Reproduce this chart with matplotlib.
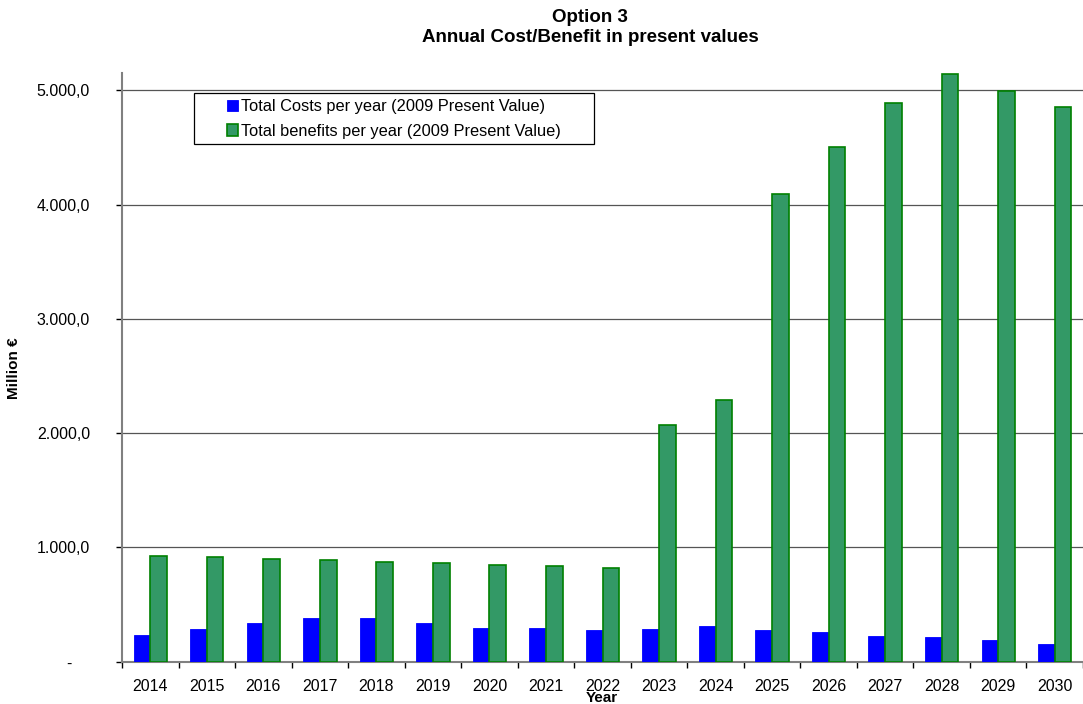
import numpy as np
import matplotlib
matplotlib.use("Agg")
import matplotlib.pyplot as plt
from matplotlib.patches import Rectangle

plt.rcParams['font.family'] = ['Liberation Sans', 'DejaVu Sans']

years = ['2014', '2015', '2016', '2017', '2018', '2019', '2020', '2021', '2022',
         '2023', '2024', '2025', '2026', '2027', '2028', '2029', '2030']
costs = [231, 286, 341, 382, 380, 336, 297, 292, 280,
         286, 310, 277, 260, 222, 213, 190, 157]
benefits = [924, 913, 900, 889, 875, 861, 848, 837, 817,
            2070, 2289, 4090, 4501, 4886, 5140, 4992, 4852]
y_ticks = [0, 1000, 2000, 3000, 4000, 5000]
y_tick_labels = ['-    ', '1.000,0', '2.000,0', '3.000,0', '4.000,0', '5.000,0']

W, H = 1083, 704
fig = plt.figure(figsize=(W / 100, H / 100), dpi=100)
ax = fig.add_axes([122 / W, 1 - 661.7 / H, (W - 122) / W, (661.7 - 72.7) / H])

x = np.arange(len(years))
w = 0.295
ax.bar(x - w / 2, costs, w, color='#0000FF', edgecolor='#0000FF', linewidth=0.6,
       label='Total Costs per year (2009 Present Value)', zorder=3)
ax.bar(x + w / 2, benefits, w, color='#339966', edgecolor='#008000', linewidth=1.2,
       label='Total benefits per year (2009 Present Value)', zorder=3)

ax.set_xlim(-0.5, len(years) - 0.5)
ax.set_ylim(0, 5155)

ax.set_yticks(y_ticks)
ax.set_yticklabels(y_tick_labels, fontsize=11.5)
ax.set_xticks(x)
ax.set_xticklabels(years, fontsize=11.5)
ax.set_xticks(np.arange(-0.5, len(years)), minor=True)
ax.tick_params(axis='x', which='major', length=0, pad=12.5)
ax.tick_params(axis='x', which='minor', length=4, width=1, color='black', direction='out')
ax.tick_params(axis='y', length=4, width=1, color='black', direction='out', pad=19)

ax.yaxis.grid(True, color='#555555', linewidth=0.9, zorder=0)
for s in ['top', 'right']:
    ax.spines[s].set_visible(False)
for s in ['left', 'bottom']:
    ax.spines[s].set_color('#808080')
    ax.spines[s].set_linewidth(1.5)

# titles and axis names
fig.text(590 / W, 1 - 27.5 / H, 'Option 3\nAnnual Cost/Benefit in present values',
         ha='center', va='center', fontsize=13.5, fontweight='bold', linespacing=1.25)
fig.text(14 / W, 1 - 368 / H, 'Million €', rotation=90, ha='center', va='center',
         fontsize=11, fontweight='bold')
fig.text(602 / W, 1 - 698.5 / H, 'Year', ha='center', va='center',
         fontsize=11, fontweight='bold')

# legend box with wide side margins
fig.patches.append(Rectangle((194 / W, 1 - 144 / H), 400 / W, 51 / H,
                             transform=fig.transFigure, facecolor='white',
                             edgecolor='black', linewidth=0.9, zorder=5))
leg = fig.legend(*ax.get_legend_handles_labels(), loc='upper left',
                 bbox_to_anchor=(227 / W, 1 - 99 / H), fontsize=11.8,
                 frameon=False, borderpad=0, labelspacing=0.6,
                 handlelength=0.68, handleheight=0.68, handletextpad=0.2,
                 borderaxespad=0)
leg.set_zorder(6)

fig.savefig('out.png', dpi=100)
